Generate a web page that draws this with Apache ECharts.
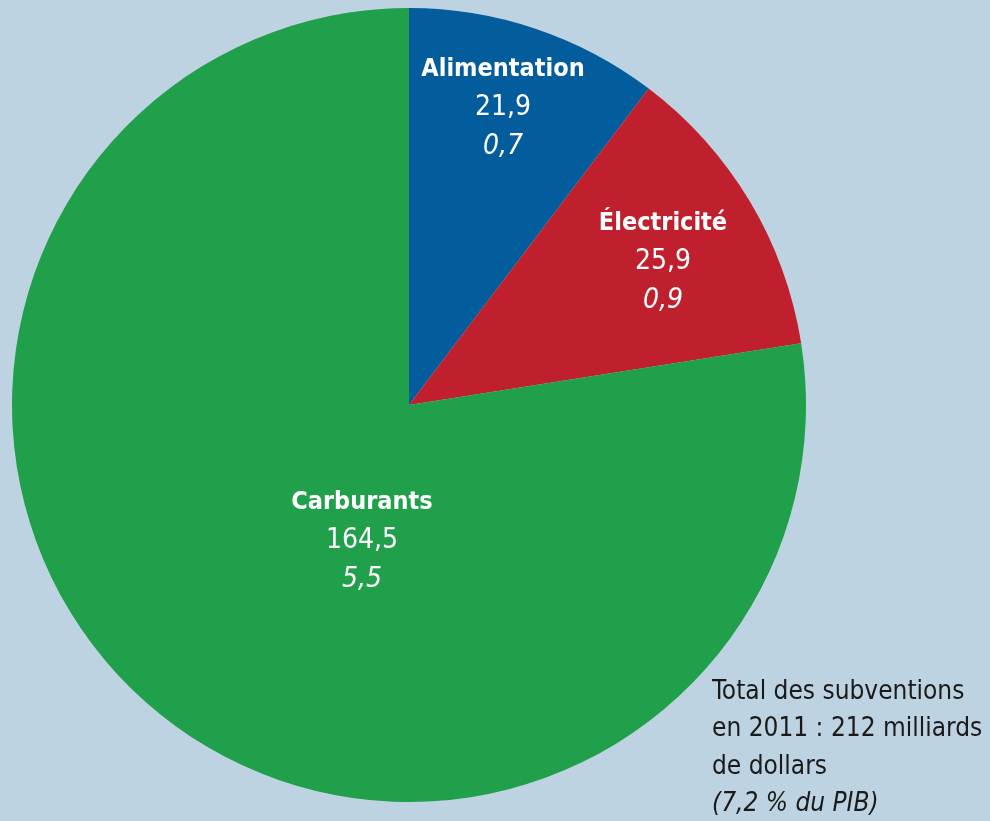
<!DOCTYPE html>
<html>
<head>
<meta charset="utf-8">
<script src="https://cdn.jsdelivr.net/npm/echarts@6/dist/echarts.min.js"></script>
<style>
  html, body { margin: 0; padding: 0; background: #bdd3e1; }
  #chart { width: 990px; height: 821px; }
</style>
</head>
<body>
<div id="chart"></div>
<script>
// données : subventions 2011 (milliards de dollars, % du PIB)
var categories = ['Alimentation', 'Électricité', 'Carburants'];
var montants = [21.9, 25.9, 164.5];
var partsPib = ['0,7', '0,9', '5,5'];
var couleurs = ['#035c9b', '#c0202e', '#21a04b'];
var totalLignes = ['Total des subventions', 'en 2011 : 212 milliards', 'de dollars'];
var totalPib = '(7,2 % du PIB)';

// position des étiquettes (centre du bloc de texte)
var labelPos = [[503, 108], [663, 262], [362, 541]];

var font = '"Liberation Sans Narrow", "DejaVu Sans Condensed", sans-serif';

var myChart = echarts.init(document.getElementById('chart'));

var pieData = categories.map(function (c, i) {
  return { name: c, value: montants[i], itemStyle: { color: couleurs[i] } };
});

var option = {
  backgroundColor: '#bdd3e1',
  animation: false,
  title: {
    left: 707,
    top: 668,
    text: totalLignes.map(function (l) { return '{n|' + l + '}'; }).join('\n') + '\n{i|' + totalPib + '}',
    textStyle: {
      fontWeight: 'normal',
      rich: {
        n: { fontFamily: font, fontSize: 26, fontWeight: 'normal', lineHeight: 37.6, color: '#1a1a1a' },
        i: { fontFamily: font, fontSize: 26, fontWeight: 'normal', lineHeight: 37.6, color: '#1a1a1a', fontStyle: 'italic' }
      }
    }
  },
  series: [{
    type: 'pie',
    center: [409, 405],
    radius: 397,
    startAngle: 90,
    clockwise: true,
    silent: true,
    data: pieData,
    label: {
      show: true,
      position: 'inside',
      formatter: function (p) {
        var v = String(p.value).replace('.', ',');
        return '{b|' + p.name + '}\n{v|' + v + '}\n{p|' + partsPib[p.dataIndex] + '}';
      },
      rich: {
        b: { fontFamily: font, fontSize: 25, fontWeight: 'bold', color: '#fff', lineHeight: 39, align: 'center' },
        v: { fontFamily: font, fontSize: 28, color: '#fff', lineHeight: 39, align: 'center' },
        p: { fontFamily: font, fontSize: 28, color: '#fff', lineHeight: 39, fontStyle: 'italic', align: 'center' }
      }
    },
    labelLine: { show: false },
    labelLayout: function (params) {
      var pos = labelPos[params.dataIndex];
      return { x: pos[0], y: pos[1], align: 'center', verticalAlign: 'middle' };
    }
  }]
};

myChart.setOption(option);
</script>
</body>
</html>
